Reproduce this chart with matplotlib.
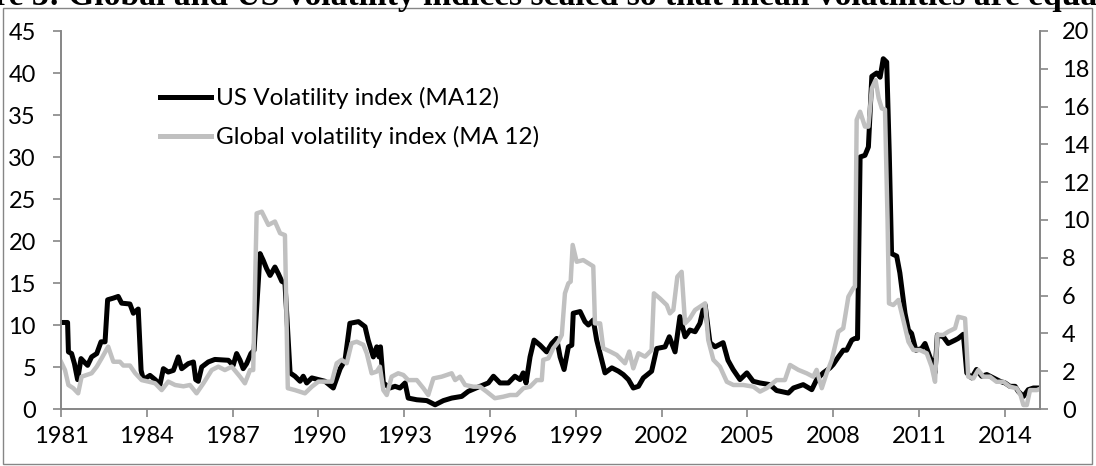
import matplotlib
matplotlib.use("Agg")
import matplotlib.pyplot as plt
from matplotlib.lines import Line2D
from matplotlib.patches import Rectangle

# ---- values (decimal year, level) ----
us_years = [1981.00, 1981.23, 1981.26, 1981.37, 1981.47, 1981.58, 1981.70, 1981.81, 1981.93,
            1982.07, 1982.25, 1982.40, 1982.54, 1982.63, 1982.83, 1983.00, 1983.12, 1983.41,
            1983.53, 1983.70, 1983.80, 1983.88, 1984.11, 1984.29, 1984.46, 1984.58, 1984.75,
            1984.93, 1985.10, 1985.22, 1985.45, 1985.63, 1985.71, 1985.80, 1985.92, 1986.15,
            1986.38, 1986.85, 1987.02, 1987.14, 1987.26, 1987.37, 1987.49, 1987.64, 1987.75,
            1987.96, 1988.07, 1988.19, 1988.31, 1988.48, 1988.60, 1988.72, 1988.83, 1989.01,
            1989.18, 1989.36, 1989.47, 1989.59, 1989.77, 1990.00, 1990.23, 1990.52, 1990.76,
            1990.93, 1991.10, 1991.40, 1991.63, 1991.74, 1991.92, 1992.04, 1992.12, 1992.17,
            1992.27, 1992.50, 1992.68, 1992.85, 1993.03, 1993.14, 1993.44, 1993.79, 1994.08,
            1994.37, 1994.66, 1995.01, 1995.24, 1995.65, 1995.94, 1996.12, 1996.35, 1996.64,
            1996.87, 1997.05, 1997.16, 1997.26, 1997.40, 1997.54, 1997.75, 1997.98, 1998.16,
            1998.33, 1998.45, 1998.59, 1998.74, 1998.86, 1998.91, 1999.15, 1999.32, 1999.44,
            1999.61, 1999.73, 1999.85, 2000.02, 2000.26, 2000.49, 2000.66, 2000.84, 2001.01,
            2001.19, 2001.36, 2001.65, 2001.83, 2002.12, 2002.27, 2002.47, 2002.64, 2002.82,
            2002.99, 2003.17, 2003.34, 2003.45, 2003.52, 2003.69, 2003.87, 2004.15, 2004.32,
            2004.50, 2004.74, 2004.98, 2005.20, 2005.44, 2005.79, 2006.02, 2006.43, 2006.61,
            2006.95, 2007.25, 2007.42, 2007.65, 2007.89, 2008.00, 2008.18, 2008.35, 2008.47,
            2008.65, 2008.76, 2008.85, 2008.94, 2009.11, 2009.23, 2009.35, 2009.52, 2009.64,
            2009.75, 2009.87, 2009.96, 2010.04, 2010.22, 2010.33, 2010.51, 2010.63, 2010.74,
            2010.89, 2011.09, 2011.21, 2011.38, 2011.50, 2011.56, 2011.64, 2011.85, 2012.02,
            2012.26, 2012.37, 2012.55, 2012.67, 2012.84, 2013.01, 2013.19, 2013.37, 2013.60,
            2013.83, 2014.01, 2014.18, 2014.36, 2014.47, 2014.65, 2014.82, 2015.00, 2015.23]
us_vol = [10.3, 10.3, 6.8, 6.6, 5.4, 3.5, 6.0, 5.6, 5.2,
          6.2, 6.6, 8.0, 8.0, 13.0, 13.2, 13.4, 12.6, 12.5,
          11.4, 11.9, 4.6, 3.5, 4.0, 3.5, 2.9, 4.8, 4.4,
          4.6, 6.2, 4.8, 5.4, 5.6, 3.5, 3.3, 5.0, 5.6,
          5.9, 5.8, 5.2, 6.6, 5.8, 4.8, 5.4, 6.6, 7.0,
          18.5, 17.7, 16.7, 15.9, 16.9, 16.1, 15.2, 15.0, 4.3,
          3.9, 3.3, 3.9, 3.1, 3.7, 3.5, 3.3, 2.5, 4.8,
          5.8, 10.2, 10.4, 9.8, 8.2, 6.2, 7.4, 6.2, 7.4,
          3.1, 2.5, 2.7, 2.5, 3.1, 1.3, 1.1, 1.0, 0.5,
          1.0, 1.3, 1.5, 2.1, 2.7, 3.1, 3.9, 3.1, 3.1,
          3.9, 3.5, 4.3, 3.1, 6.2, 8.2, 7.6, 6.8, 7.8,
          8.4, 6.2, 4.7, 7.4, 7.6, 11.4, 11.6, 10.4, 10.0,
          10.6, 8.2, 6.6, 4.3, 4.9, 4.5, 4.1, 3.5, 2.5,
          2.7, 3.7, 4.5, 7.2, 7.4, 8.6, 6.8, 11.0, 8.6,
          9.4, 9.2, 10.2, 11.8, 12.4, 7.9, 7.4, 7.9, 5.8,
          4.7, 3.5, 4.3, 3.3, 3.1, 2.9, 2.2, 1.9, 2.5,
          2.9, 2.3, 3.5, 4.3, 4.9, 5.3, 6.2, 7.0, 7.0,
          8.2, 8.4, 8.4, 30.0, 30.2, 31.2, 39.6, 40.0, 39.5,
          41.7, 41.3, 30.4, 18.5, 18.2, 16.2, 11.4, 9.4, 9.0,
          7.0, 7.2, 7.8, 6.2, 5.3, 4.3, 8.8, 8.6, 7.8,
          8.2, 8.4, 8.9, 4.3, 3.7, 4.7, 3.9, 4.1, 3.7,
          3.3, 3.1, 2.7, 2.7, 2.1, 1.5, 2.3, 2.5, 2.5]

gl_years = [1981.00, 1981.14, 1981.26, 1981.43, 1981.60, 1981.72, 1981.90, 1982.07, 1982.25,
            1982.42, 1982.65, 1982.83, 1983.06, 1983.18, 1983.41, 1983.59, 1983.82, 1984.05,
            1984.29, 1984.52, 1984.75, 1984.99, 1985.28, 1985.51, 1985.74, 1985.98, 1986.27,
            1986.50, 1986.73, 1986.97, 1987.26, 1987.43, 1987.61, 1987.72, 1987.84, 1988.02,
            1988.25, 1988.48, 1988.66, 1988.83, 1988.93, 1989.18, 1989.53, 1989.77, 1990.00,
            1990.47, 1990.64, 1990.81, 1990.99, 1991.16, 1991.34, 1991.57, 1991.69, 1991.86,
            1992.04, 1992.15, 1992.27, 1992.39, 1992.56, 1992.79, 1992.97, 1993.14, 1993.44,
            1993.67, 1993.84, 1994.02, 1994.31, 1994.66, 1994.78, 1994.95, 1995.13, 1995.42,
            1995.65, 1995.88, 1996.17, 1996.46, 1996.70, 1996.93, 1997.17, 1997.40, 1997.63,
            1997.81, 1997.86, 1998.04, 1998.21, 1998.39, 1998.51, 1998.62, 1998.74, 1998.82,
            1998.89, 1999.03, 1999.26, 1999.44, 1999.61, 1999.67, 1999.85, 1999.96, 2000.20,
            2000.43, 2000.72, 2000.87, 2001.01, 2001.19, 2001.42, 2001.65, 2001.73, 2001.94,
            2002.18, 2002.29, 2002.41, 2002.55, 2002.70, 2002.82, 2002.99, 2003.17, 2003.34,
            2003.52, 2003.63, 2003.81, 2004.04, 2004.28, 2004.51, 2004.86, 2005.21, 2005.44,
            2005.67, 2006.02, 2006.31, 2006.49, 2006.78, 2007.07, 2007.30, 2007.42, 2007.60,
            2007.77, 2007.95, 2008.18, 2008.35, 2008.53, 2008.70, 2008.76, 2008.82, 2008.94,
            2009.11, 2009.23, 2009.35, 2009.48, 2009.59, 2009.70, 2009.81, 2009.90, 2009.95,
            2010.10, 2010.28, 2010.45, 2010.63, 2010.80, 2011.03, 2011.27, 2011.44, 2011.56,
            2011.64, 2011.85, 2012.02, 2012.26, 2012.37, 2012.61, 2012.72, 2012.90, 2013.07,
            2013.25, 2013.48, 2013.71, 2013.95, 2014.18, 2014.41, 2014.55, 2014.65, 2014.77,
            2014.88, 2015.12, 2015.23]
gl_vol = [2.5, 2.06, 1.27, 1.1, 0.83, 1.71, 1.8, 1.89, 2.24,
          2.68, 3.3, 2.5, 2.5, 2.3, 2.3, 1.9, 1.53, 1.45,
          1.36, 1.0, 1.45, 1.27, 1.2, 1.27, 0.83, 1.36, 2.06,
          2.24, 2.06, 2.24, 1.71, 1.36, 2.06, 2.06, 10.35, 10.44,
          9.74, 9.92, 9.3, 9.2, 1.1, 1.0, 0.83, 1.18, 1.45,
          1.45, 2.42, 2.6, 2.42, 3.48, 3.56, 3.4, 2.95, 1.89,
          1.98, 2.24, 1.0, 0.74, 1.71, 1.89, 1.8, 1.53, 1.53,
          1.1, 0.74, 1.62, 1.71, 1.89, 1.53, 1.71, 1.27, 1.18,
          1.18, 0.92, 0.57, 0.65, 0.74, 0.74, 1.1, 1.18, 1.53,
          1.53, 2.6, 2.68, 3.21, 3.56, 3.92, 6.12, 6.65, 6.74,
          8.68, 7.79, 7.88, 7.71, 7.55, 4.53, 4.53, 3.21, 3.04,
          2.86, 2.42, 3.04, 2.15, 2.95, 2.77, 3.12, 6.12, 5.85,
          5.5, 5.06, 5.24, 7.0, 7.26, 4.53, 4.8, 5.24, 5.41,
          5.59, 3.65, 2.6, 2.24, 1.44, 1.27, 1.27, 1.18, 0.92,
          1.1, 1.53, 1.53, 2.33, 2.07, 1.89, 1.71, 2.07, 1.1,
          1.89, 2.6, 4.09, 4.27, 5.94, 6.39, 6.47, 15.3, 15.73,
          14.94, 14.94, 16.97, 17.4, 16.44, 15.9, 15.85, 10.0, 5.59,
          5.5, 5.77, 4.71, 3.56, 3.12, 3.12, 2.95, 2.24, 1.44,
          3.92, 3.92, 4.09, 4.27, 4.88, 4.79, 1.71, 1.62, 2.06,
          1.71, 1.71, 1.44, 1.44, 1.18, 1.1, 0.74, 0.21, 0.21,
          1.0, 1.0, 1.07]

x_ticks = list(range(1981, 2015, 3))
left_ticks = list(range(0, 46, 5))
right_ticks = list(range(0, 21, 2))

us_label = "US Volatility index (MA12)"
gl_label = "Global volatility index (MA 12)"
title = "Figure 3: Global and US volatility indices scaled so that mean volatilities are equal"

AXIS_GREY = "#868686"
plt.rcParams["font.family"] = ["Lato", "DejaVu Sans"]
FS = 17
LEG_FS = 17.5

fig = plt.figure(figsize=(10.96, 4.66), dpi=100)
W, H = 1096, 466
ax = fig.add_axes([61 / W, 1 - 409 / H, (1040 - 61) / W, (409 - 31) / H])
ax2 = ax.twinx()

ax.plot(us_years, us_vol, color="black", lw=3.6, solid_joinstyle="round")
ax2.plot(gl_years, gl_vol, color="#c0c0c0", lw=3.2, solid_joinstyle="round")

ax.set_xlim(1981, 2015.23)
ax.set_ylim(0, 45)
ax2.set_ylim(0, 20)
ax.set_xticks(x_ticks)
ax.set_xticklabels([str(y) for y in x_ticks])
ax.set_yticks(left_ticks)
ax2.set_yticks(right_ticks)

for a in (ax, ax2):
    a.spines["top"].set_visible(False)
    for s in ("left", "right", "bottom"):
        a.spines[s].set_color(AXIS_GREY)
        a.spines[s].set_linewidth(1.2)
    a.tick_params(colors=AXIS_GREY, labelcolor="black", labelsize=FS,
                  length=6, width=1.2)
    a.patch.set_visible(False)
ax.tick_params(axis="y", pad=12)
ax2.tick_params(axis="y", pad=10)
ax.tick_params(axis="x", pad=6)

handles = [Line2D([], [], color="black", lw=3.6),
           Line2D([], [], color="#c0c0c0", lw=3.6)]
ax2.legend(handles, [us_label, gl_label], loc="upper left", frameon=False,
           bbox_to_anchor=(160 / W, 1 - 87 / H), bbox_transform=fig.transFigure,
           fontsize=LEG_FS, borderpad=0, borderaxespad=0, handlelength=2.1,
           handletextpad=0.2, labelspacing=0.7)

# outer chart border
fig.patches.append(Rectangle((3 / W, 2 / H), 1089 / W, (466 - 2 - 8) / H,
                             transform=fig.transFigure, fill=False,
                             edgecolor=AXIS_GREY, lw=1.0))

# title sits above the chart frame and is cut off by the page edge
fig.text(0.5 - 30 / W, 1 - 5 / H, title, ha="center", va="baseline", fontsize=24.2,
         fontweight="bold", family="Liberation Serif")

fig.savefig("out.png", dpi=100)
